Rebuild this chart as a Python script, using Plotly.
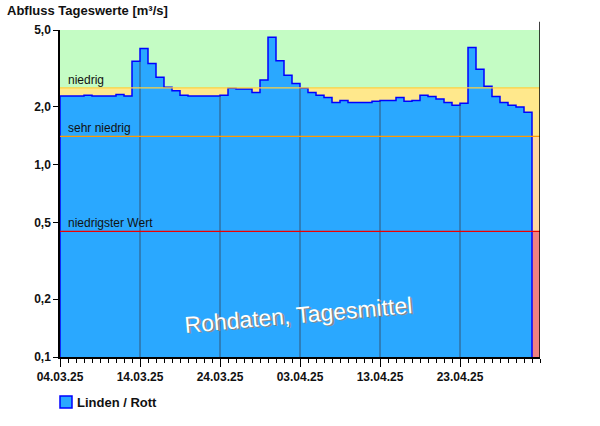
import math
import plotly.graph_objects as go

dates = ["04.03.25", "14.03.25", "24.03.25", "03.04.25", "13.04.25", "23.04.25"]
tick_pos = [0, 10, 20, 30, 40, 50]
values = [2.27, 2.27, 2.27, 2.29, 2.27, 2.27, 2.27, 2.31, 2.27, 3.44,
          4.01, 3.35, 2.84, 2.52, 2.42, 2.29, 2.27, 2.27, 2.27, 2.27,
          2.29, 2.49, 2.47, 2.47, 2.37, 2.75, 4.58, 3.46, 2.91, 2.64,
          2.49, 2.37, 2.29, 2.23, 2.10, 2.15, 2.10, 2.10, 2.10, 2.13,
          2.15, 2.15, 2.23, 2.13, 2.15, 2.29, 2.26, 2.19, 2.10, 2.03,
          2.08, 4.06, 3.13, 2.55, 2.26, 2.10, 2.03, 1.99, 1.87]
thresholds = {"niedrig": 2.5, "sehr niedrig": 1.4, "niedrigster Wert": 0.45}
th_colors = {"niedrig": "#ffd040", "sehr niedrig": "#ff9900", "niedrigster Wert": "#ee0000"}
series_name = "Linden / Rott"
ymin, ymax = 0.1, 5.0
ndays = 60
PW, PH = 480, 327

def f(v):
    return (math.log10(v) - math.log10(ymin)) / (math.log10(ymax) - math.log10(ymin))

n = len(values)
xs = list(range(n))
fig = go.Figure()
fig.add_trace(go.Bar(x=xs, y=values, width=1, offset=0, marker=dict(color="#2aa8ff", line=dict(width=0)),
                     name=series_name, showlegend=False))
step_x = xs + [n]
step_y = values + [values[-1]]
fig.add_trace(go.Scatter(x=[0] + step_x + [n], y=[ymin] + step_y + [ymin], mode="lines",
                         line=dict(color="#0000ff", width=1.5, shape="hv"), showlegend=False, hoverinfo="skip"))

shapes = []
strip = [(thresholds["niedrig"], ymax, "#c4fcc4"), (thresholds["sehr niedrig"], thresholds["niedrig"], "#ffe88c"),
         (thresholds["niedrigster Wert"], thresholds["sehr niedrig"], "#ffd8a0"), (ymin, thresholds["niedrigster Wert"], "#f08080")]
for lo, hi, c in strip:
    shapes.append(dict(type="rect", xref="x", yref="y domain", x0=0, x1=ndays, y0=f(lo), y1=f(hi),
                       fillcolor=c, line=dict(width=0), layer="below"))
for p in tick_pos[1:]:
    top = min(values[p - 1], values[p])
    shapes.append(dict(type="line", xref="x", yref="y domain", x0=p, x1=p, y0=0, y1=f(top),
                       line=dict(color="#335577", width=1), layer="above"))
annos = []
for name, v in thresholds.items():
    shapes.append(dict(type="line", xref="x", yref="y domain", x0=0, x1=ndays, y0=f(v), y1=f(v),
                       line=dict(color=th_colors[name], width=1.3), layer="above"))
    annos.append(dict(text=name, x=0.7, y=f(v), xref="x", yref="y domain", xanchor="left", yanchor="bottom",
                      showarrow=False, font=dict(size=12, color="#111"), yshift=-1))
annos.append(dict(text="Abfluss Tageswerte [m³/s]", xref="x domain", yref="y domain", x=-55/PW, y=1 + 19/PH,
                  xanchor="left", yanchor="middle", showarrow=False,
                  font=dict(size=13, color="#111", family="Liberation Sans", weight="bold")))
for sx, sy, col in [(1.5, -1.5, "#8a8a8a"), (0, 0, "white")]:
    annos.append(dict(text="Rohdaten, Tagesmittel", x=0.496, y=0.12, xref="paper", yref="paper", showarrow=False,
                      textangle=-5, font=dict(size=23, color=col, family="Liberation Sans"),
                      xshift=sx, yshift=sy - 22))
# legend
shapes.append(dict(type="rect", xref="paper", yref="paper", x0=0, x1=12 / PW, y0=-51 / PH, y1=-39 / PH,
                   fillcolor="#2aa8ff", line=dict(color="#0000ff", width=1.5)))
annos.append(dict(text=series_name, xref="paper", yref="paper", x=15 / PW, y=-45 / PH, xanchor="left",
                  yanchor="middle", showarrow=False, font=dict(size=13, color="#111", weight="bold")))

fig.update_layout(
    width=600, height=426, margin=dict(l=60, r=60, t=30, b=69, autoexpand=False),
    paper_bgcolor="white", plot_bgcolor="white", bargap=0, showlegend=False,
    font=dict(family="Liberation Sans", size=12, color="#111"),
    annotations=annos,
    xaxis=dict(range=[0, ndays], tickvals=tick_pos, ticktext=dates, showgrid=False, ticks="outside",
               ticklen=8, tickcolor="black", showline=True, linecolor="black", linewidth=1.5, zeroline=False,
               tickfont=dict(size=12, weight="bold"), minor=dict(dtick=1, ticks="outside", ticklen=4, tickcolor="black")),
    yaxis=dict(type="log", range=[math.log10(ymin), math.log10(ymax)], tickvals=[0.1, 0.2, 0.5, 1, 2, 5],
               ticktext=["0,1", "0,2", "0,5", "1,0", "2,0", "5,0"], showgrid=False, ticks="outside", ticklen=5,
               tickcolor="black", showline=True, linecolor="black", linewidth=1.5,
               tickfont=dict(size=12, weight="bold")),
)
shapes.append(dict(type="line", xref="x", yref="paper", x0=ndays, x1=ndays, y0=0, y1=1.025,
                   line=dict(color="black", width=1.5), layer="above"))
fig.update_layout(shapes=shapes)
fig.write_html("out.html", config={"displayModeBar": False},
               post_script="document.body.style.margin='0';document.body.style.overflow='hidden';")
